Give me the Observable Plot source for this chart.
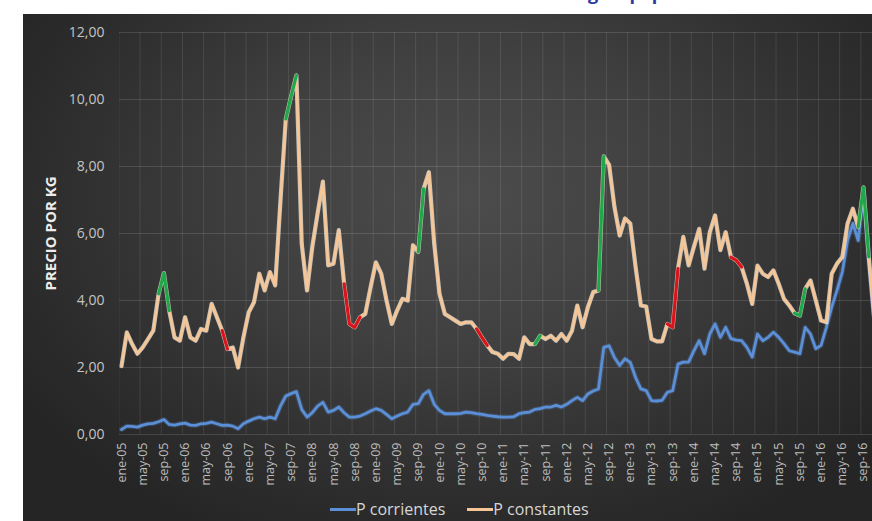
<!DOCTYPE html>
<html><head><meta charset="utf-8">
<script src="https://cdn.jsdelivr.net/npm/d3@7"></script>
<script src="https://cdn.jsdelivr.net/npm/@observablehq/plot@0.6"></script>
<style>
html,body{margin:0;padding:0;background:#fff;}
#wrap{position:relative;width:872px;height:521px;overflow:hidden;font-family:"Open Sans",sans-serif;}
#bg{position:absolute;left:23px;top:14px;width:849px;height:507px;
 background:radial-gradient(ellipse 62% 75% at 52% 36%, #4c4c4c 0%, #404040 40%, #2f2f2f 75%, #252525 100%);}
#title{position:absolute;right:198px;top:-19px;font:bold 18px "Open Sans",sans-serif;line-height:24px;color:#2b36a3;white-space:nowrap;}
#chart{position:absolute;left:0;top:0;}
#legend{position:absolute;top:498px;left:330px;display:flex;align-items:center;font-size:16px;color:#d6d6d6;white-space:nowrap;}
#legend .sw{display:inline-block;width:26px;height:3px;}
#legend .item{display:flex;align-items:center;margin-right:22px;}
</style></head>
<body>
<div id="wrap">
 <div id="title">Gráfico 2. Evolución del Precio de un kg de papa</div>
 <div id="bg"></div>
 <div id="chart"></div>
 <div id="legend"></div>
</div>
<script>
// Monthly series, Jan 2005 (index 0) onward
const corrientes = [
 0.15,0.25,0.24,0.22,0.28,0.32,0.33,0.38,0.45,0.30,0.28,0.32,
 0.34,0.28,0.27,0.32,0.33,0.37,0.32,0.27,0.28,0.25,0.17,0.32,
 0.40,0.47,0.52,0.47,0.52,0.47,0.85,1.15,1.22,1.28,0.75,0.52,
 0.65,0.85,0.96,0.67,0.72,0.82,0.65,0.52,0.52,0.55,0.62,0.70,
 0.77,0.72,0.60,0.47,0.55,0.62,0.67,0.90,0.92,1.20,1.31,0.90,
 0.72,0.62,0.62,0.62,0.63,0.67,0.65,0.62,0.60,0.57,0.55,0.53,
 0.52,0.52,0.53,0.62,0.65,0.67,0.75,0.77,0.82,0.82,0.87,0.82,
 0.90,1.01,1.11,1.01,1.21,1.30,1.36,2.60,2.65,2.30,2.06,2.26,
 2.15,1.70,1.36,1.31,1.01,1.00,1.02,1.26,1.31,2.10,2.16,2.16,
 2.50,2.80,2.41,3.00,3.30,2.90,3.20,2.86,2.82,2.80,2.60,2.31,
 3.00,2.80,2.90,3.05,2.90,2.71,2.50,2.46,2.41,3.20,3.00,2.56,
 2.66,3.20,3.80,4.30,4.85,5.80,6.30,5.79,7.20,5.20,3.50
];
const constantes = [
 2.04,3.05,2.70,2.41,2.60,2.85,3.10,4.20,4.82,3.70,2.90,2.80,
 3.50,2.90,2.80,3.15,3.10,3.90,3.50,3.10,2.55,2.60,2.00,2.90,
 3.65,3.95,4.80,4.30,4.85,4.45,7.00,9.42,10.10,10.72,5.70,4.30,
 5.60,6.60,7.55,5.05,5.10,6.10,4.50,3.30,3.20,3.50,3.60,4.40,
 5.14,4.80,4.00,3.30,3.70,4.05,4.00,5.65,5.45,7.33,7.83,5.70,
 4.20,3.60,3.50,3.40,3.30,3.35,3.35,3.15,2.90,2.66,2.46,2.41,
 2.26,2.41,2.40,2.26,2.90,2.70,2.70,2.95,2.85,2.95,2.80,3.00,
 2.80,3.10,3.85,3.20,3.80,4.25,4.30,8.30,8.05,6.80,5.94,6.45,
 6.30,5.00,3.85,3.82,2.85,2.78,2.78,3.30,3.20,4.95,5.90,5.05,
 5.60,6.14,4.95,6.04,6.54,5.50,6.04,5.29,5.20,5.00,4.50,3.90,
 5.04,4.80,4.70,4.90,4.50,4.05,3.85,3.62,3.55,4.35,4.60,4.00,
 3.40,3.35,4.80,5.10,5.30,6.30,6.74,6.19,7.38,5.30,3.50
];
// highlighted stretches of the constant-price line [startIndex, endIndex]
const greenSegments = [[7,9],[31,33],[56,57],[78,79],[90,91],[127,129],[139,141]];
const redSegments = [[19,20],[42,45],[67,69],[103,105],[115,117]];
const tickLabels = ["ene-05","may-05","sep-05","ene-06","may-06","sep-06","ene-07","may-07","sep-07",
 "ene-08","may-08","sep-08","ene-09","may-09","sep-09","ene-10","may-10","sep-10",
 "ene-11","may-11","sep-11","ene-12","may-12","sep-12","ene-13","may-13","sep-13",
 "ene-14","may-14","sep-14","ene-15","may-15","sep-15","ene-16","may-16","sep-16"];
const yTicks = [0,2,4,6,8,10,12];
const seriesNames = ["P corrientes","P constantes"];
const colors = {cur:"#5b8fd8", con:"#f6c696", green:"#1fa84a", red:"#d9141c"};

const data = constantes.map((v,i)=>({i, con:v, cur:corrientes[i]}));
const tickIdx = tickLabels.map((_,k)=>4*k);
const gridX = tickLabels.map((_,k)=>4*k-0.5).concat([143.5]);
function segs(list){
  const out=[];
  list.forEach(([a,b],s)=>{ for(let i=a;i<=b;i++) out.push({i, v:constantes[i], seg:s}); });
  return out;
}
const greenData = segs(greenSegments), redData = segs(redSegments);

const chart = Plot.plot({
  width:872, height:495,
  marginLeft:119, marginRight:0, marginTop:32, marginBottom:61,
  x:{type:"linear", domain:[-0.38,141.7]},
  y:{domain:[0,12]},
  style:{background:"transparent", color:"#c4c4c4", fontFamily:"'Open Sans',sans-serif", overflow:"visible"},
  marks:[
    Plot.ruleY(yTicks,{stroke:"#ffffff", strokeOpacity:0.13}),
    Plot.ruleX(gridX,{stroke:"#ffffff", strokeOpacity:0.1, clip:true}),
    Plot.axisY({ticks:yTicks, tickSize:0, tickPadding:15, fontSize:14, fill:"#c4c4c4",
      tickFormat:d=>d.toFixed(2).replace(".",","), label:null}),
    Plot.axisX({ticks:tickIdx, tickSize:0, tickPadding:8, tickRotate:-90, fontSize:12.5, fill:"#bdbdbd",
      tickFormat:d=>tickLabels[Math.round(d/4)], label:null}),
    Plot.line(data,{x:"i", y:"cur", stroke:colors.cur, strokeWidth:5, strokeOpacity:0.25, clip:true}),
    Plot.line(data,{x:"i", y:"cur", stroke:colors.cur, strokeWidth:2.8, clip:true}),
    Plot.line(data,{x:"i", y:"con", stroke:"#fff3e6", strokeWidth:4.2, strokeOpacity:0.7, clip:true}),
    Plot.line(data,{x:"i", y:"con", stroke:colors.con, strokeWidth:2.6, clip:true}),
    Plot.line(greenData,{x:"i", y:"v", z:"seg", stroke:colors.green, strokeWidth:3.2, clip:true}),
    Plot.line(redData,{x:"i", y:"v", z:"seg", stroke:colors.red, strokeWidth:3.2, clip:true}),
    Plot.text(["PRECIO POR KG"],{text:d=>d, frameAnchor:"left", textAnchor:"middle", dx:-68, rotate:-90,
      fontWeight:"bold", fontSize:15, fill:"#ececec"})
  ]
});
document.getElementById("chart").appendChild(chart);

const legend = document.getElementById("legend");
[[seriesNames[0],colors.cur],[seriesNames[1],colors.con]].forEach(([n,c])=>{
  const it=document.createElement("div"); it.className="item";
  const sw=document.createElement("span"); sw.className="sw"; sw.style.background=c;
  const t=document.createElement("span"); t.textContent=n;
  it.appendChild(sw); it.appendChild(t); legend.appendChild(it);
});
</script>
</body></html>
